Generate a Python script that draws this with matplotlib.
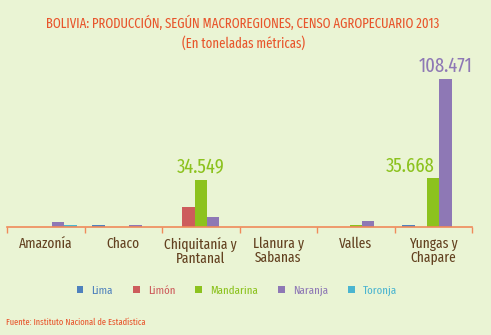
import matplotlib.pyplot as plt
import matplotlib.font_manager as fm
import numpy as np

# regiones y producción (toneladas métricas)
regiones = ["Amazonía", "Chaco", "Chiquitanía y\nPantanal", "Llanura y\nSabanas", "Valles", "Yungas y\nChapare"]
lima = [300, 1400, 300, 200, 300, 1500]
limon = [200, 200, 14300, 200, 300, 300]
mandarina = [300, 200, 34549, 300, 1500, 35668]
naranja = [3700, 1400, 7300, 300, 4400, 108471]
toronja = [1500, 300, 300, 300, 300, 300]

series = ["Lima", "Limón", "Mandarina", "Naranja", "Toronja"]
colores = ["#4F81BD", "#CD5C5C", "#8CC21E", "#8E78B5", "#4BB5D0"]

# fuente condensada, si hay alguna
names = {f.name for f in fm.fontManager.ttflist}
candidatas = ["Fira Sans Extra Condensed", "Fira Sans Condensed", "Ubuntu Condensed", "Encode Sans Condensed",
              "Roboto Condensed", "PT Sans Narrow", "Archivo Narrow", "Asap Condensed"]
fuente = [c for c in candidatas if c in names][:1] + ["DejaVu Sans"]
plt.rcParams['font.family'] = fuente

fondo = "#EAF4D4"
fig = plt.figure(figsize=(4.91, 3.35), dpi=100, facecolor=fondo)
ax = fig.add_axes([0.0143, 0.3224, 0.947, 0.4985])
ax.set_facecolor(fondo)

x = np.arange(len(regiones))
w = 0.16
datos = [lima, limon, mandarina, naranja, toronja]
for i, (vals, nombre, c) in enumerate(zip(datos, series, colores)):
    ax.bar(x + (i - 2) * w, vals, w, color=c, label=nombre, linewidth=0)

ax.set_xlim(-0.5, len(regiones) - 0.5)
ax.set_ylim(0, 122400)
ax.set_yticks([])
for s in ["top", "right", "left"]:
    ax.spines[s].set_visible(False)
ax.spines["bottom"].set_color("#F08A5A")
ax.spines["bottom"].set_linewidth(1.2)

ax.set_xticks(x)
ax.set_xticklabels(regiones, color="#62401F", fontsize=10.5, linespacing=1.0)
ax.tick_params(axis="x", which="major", length=0, pad=7)
ax.set_xticks(np.arange(-0.5, len(regiones)), minor=True)
ax.tick_params(axis="x", which="minor", length=4, color="#F08A5A", width=1)

# etiquetas de valores destacados
ax.text(x[2], mandarina[2] + 2000, "34.549", color="#8CC21E", fontsize=14.5, ha="center", va="bottom")
ax.text(x[5] - 0.3, mandarina[5] + 2000, "35.668", color="#8CC21E", fontsize=14.5, ha="center", va="bottom")
ax.text(x[5] + 0.16, naranja[5] + 2000, "108.471", color="#8E78B5", fontsize=14.5, ha="center", va="bottom")

titulo = fig.text(0.495, 1 - 23 / 335, "BOLIVIA: PRODUCCIÓN, SEGÚN MACROREGIONES, CENSO AGROPECUARIO 2013",
                  color="#E8552C", fontsize=13, ha="center", va="center")
fig.canvas.draw()
ancho = titulo.get_window_extent().width
tam = min(13, 13 * 397 / ancho)
titulo.set_fontsize(tam)
fig.text(0.495, 1 - 43 / 335, "(En toneladas métricas)", color="#E8552C", fontsize=tam, ha="center", va="center")

leg = fig.legend(loc="center", bbox_to_anchor=(237 / 491, 1 - 291 / 335), ncol=5, frameon=False,
                 handlelength=0.55, handleheight=0.55, handletextpad=0.7, columnspacing=1.7, fontsize=8.5)
for t, c in zip(leg.get_texts(), colores):
    t.set_color(c)

fig.text(6 / 491, 1 - 322 / 335, "Fuente: Instituto Nacional de Estadística", color="#E8552C",
         fontsize=6.6, ha="left", va="center")

fig.savefig("out.png", dpi=100, facecolor=fondo)
